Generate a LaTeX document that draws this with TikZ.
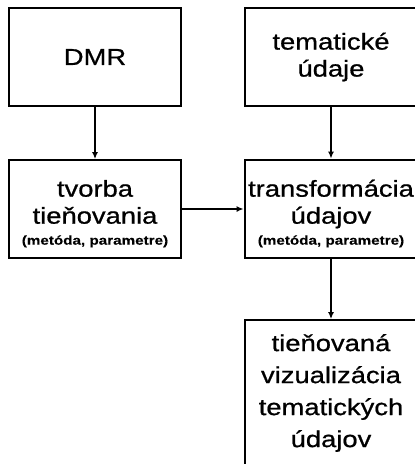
\documentclass[tikz,border=0pt]{standalone}
\usepackage{fontspec}
\newfontfamily\arialw{Liberation Sans}[FakeStretch=1.19, UprightFeatures={FakeBold=0.8}, BoldFeatures={FakeBold=0.2}]
\usetikzlibrary{arrows.meta}
\tikzset{
  box/.style={draw=black, line width=1.8pt, rectangle, minimum width=172pt, minimum height=98pt,
    inner sep=0pt, align=center, font=\arialw\fontsize{23}{27}\selectfont},
  thickbox/.style={box, line width=2.8pt},
  conn/.style={line width=1.6pt, -{Latex[length=7pt,width=6pt]}}
}
\newcommand{\smallnote}{{\fontsize{12.8}{14}\selectfont\bfseries (metóda, parametre)}}
\newcommand{\topstrut}{\rule{0pt}{26pt}}
\begin{document}
\begin{tikzpicture}[x=1pt,y=-1pt]
\useasboundingbox (0,0) rectangle (415,464);
\clip (0,0) rectangle (415,464);
\node[box] (dmr) at (95,57) {DMR};
\node[box] (tem) at (331,57) {tematické\\údaje};
\node[box] (tvo) at (95,209) {\topstrut tvorba\\tieňovania\\[-6pt]\smallnote};
\node[thickbox] (tra) at (331,209) {\topstrut transformácia\\údajov\\[-6pt]\smallnote};
\node[box, minimum height=146pt, font=\arialw\fontsize{23}{32}\selectfont] (viz) at (331,393)
  {tieňovaná\\vizualizácia\\tematických\\údajov};
\draw[conn] (dmr) -- (tvo);
\draw[conn] (tem) -- (tra);
\draw[conn] (tvo) -- (tra);
\draw[conn] (tra) -- (viz);
\end{tikzpicture}
\end{document}
